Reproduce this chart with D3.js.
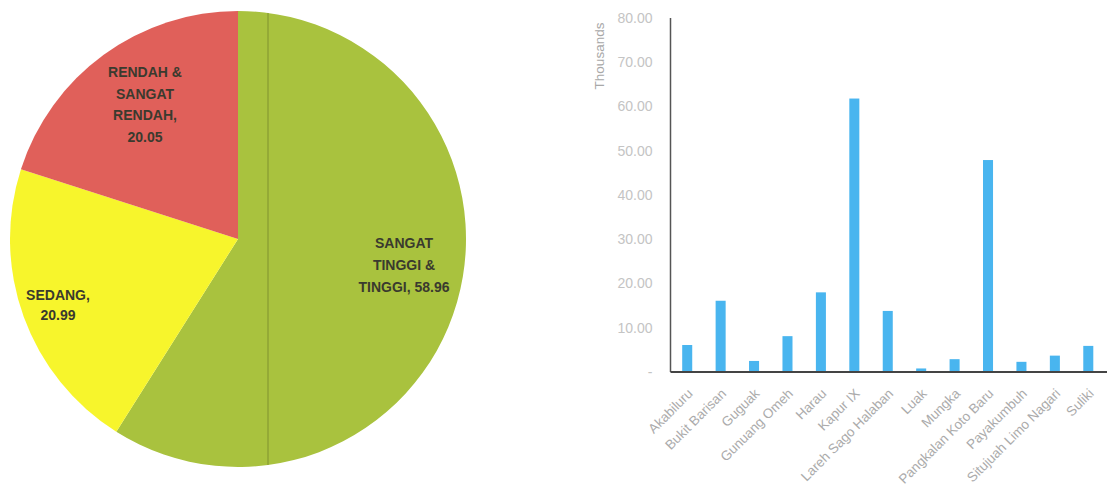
<!DOCTYPE html>
<html><head><meta charset="utf-8">
<script src="https://cdn.jsdelivr.net/npm/d3@7"></script>
<style>
html,body{margin:0;padding:0;background:#fff;}
svg{display:block;}
</style></head>
<body>
<svg id="chart" width="1107" height="495"></svg>
<script>
// ---- Pie data ----
const pieLabels = [["SANGAT","TINGGI &","TINGGI, 58.96"],["SEDANG,","20.99"],["RENDAH &","SANGAT","RENDAH,","20.05"]];
const pieValues = [58.96, 20.99, 20.05];
const pieColors = ["#a9c23e", "#f7f52c", "#e0605a"];

// ---- Bar data ----
const districts = ["Akabiluru","Bukit Barisan","Guguak","Gunuang Omeh","Harau","Kapur IX","Lareh Sago Halaban","Luak","Mungka","Pangkalan Koto Baru","Payakumbuh","Situjuah Limo Nagari","Suliki"];
const thousands = [6.1, 16.1, 2.5, 8.1, 18.0, 61.8, 13.8, 0.8, 2.9, 47.9, 2.3, 3.7, 5.9];
const yTicks = [0,10,20,30,40,50,60,70,80];

const svg = d3.select("#chart");

// ---------- PIE ----------
const cx = 238, cy = 239, R = 228;
const pg = svg.append("g").attr("transform", `translate(${cx},${cy})`);
const pie = d3.pie().sort(null).value(d => d)(pieValues);
const arc = d3.arc().innerRadius(0).outerRadius(R);
pg.selectAll("path.slice").data(pie).join("path")
  .attr("class","slice").attr("d", arc).attr("fill", (d,i) => pieColors[i]);

// scan crease line within the green slice
svg.append("clipPath").attr("id","pieclip").append("circle").attr("cx",cx).attr("cy",cy).attr("r",R);
svg.append("line").attr("x1",268).attr("x2",268).attr("y1",cy-R).attr("y2",cy+R)
  .attr("stroke","#8ea235").attr("stroke-width",1.5).attr("clip-path","url(#pieclip)");

const labelPos = [ {x:404, y:243, dy:22}, {x:58, y:295, dy:20}, {x:145, y:72, dy:21.7} ];
pieLabels.forEach((lines,i) => {
  const t = svg.append("text").attr("text-anchor","middle")
    .attr("font-family","Liberation Sans, Arial, sans-serif").attr("font-weight","bold")
    .attr("font-size",14).attr("fill","#3a3a2e");
  lines.forEach((l,j) => {
    t.append("tspan").attr("x", labelPos[i].x).attr("y", labelPos[i].y + j*labelPos[i].dy).attr("dy","0.35em").text(l);
  });
});

// ---------- BAR ----------
const x0 = 670.5, x1 = 1105, yTop = 18, yBase = 372;
const x = d3.scaleBand().domain(districts).range([x0, x1]).paddingInner(0.7).paddingOuter(0.35);
const y = d3.scaleLinear().domain([0,80]).range([yBase, yTop]);

const bg = svg.append("g");
bg.selectAll("rect").data(thousands).join("rect")
  .attr("x", (d,i) => x(districts[i]))
  .attr("width", x.bandwidth())
  .attr("y", d => y(d))
  .attr("height", d => yBase - y(d))
  .attr("fill", "#49b5ef");

// y axis
const yAxis = d3.axisLeft(y).tickValues(yTicks).tickSize(0).tickPadding(18)
  .tickFormat(d => d === 0 ? "-" : d3.format(".2f")(d));
const ya = svg.append("g").attr("transform", `translate(${x0},0)`).call(yAxis);
ya.select(".domain").attr("stroke","#555").attr("stroke-width",1.5).attr("d", `M0,${yTop}V${yBase}`);
ya.selectAll("text").attr("fill","#c4c4c4").attr("font-size",14)
  .attr("font-family","Liberation Sans, Arial, sans-serif");

// x axis
const xAxis = d3.axisBottom(x).tickSize(0).tickPadding(0);
const xa = svg.append("g").attr("transform", `translate(0,${yBase})`).call(xAxis);
xa.select(".domain").attr("stroke","#444").attr("stroke-width",2).attr("d", `M${x0},0H1107`);
xa.selectAll(".tick text")
  .attr("fill","#ababab").attr("font-size",13.5)
  .attr("font-family","Liberation Sans, Arial, sans-serif")
  .attr("text-anchor","end")
  .attr("transform","translate(3,19) rotate(-45)")
  .attr("dy","0.35em").attr("y",0);

// axis title
svg.append("text").attr("transform","translate(599,56) rotate(-90)")
  .attr("text-anchor","middle").attr("dy","0.35em")
  .attr("font-family","Liberation Sans, Arial, sans-serif").attr("font-size",13.5)
  .attr("fill","#a8a8a8").text("Thousands");
</script>
</body></html>
